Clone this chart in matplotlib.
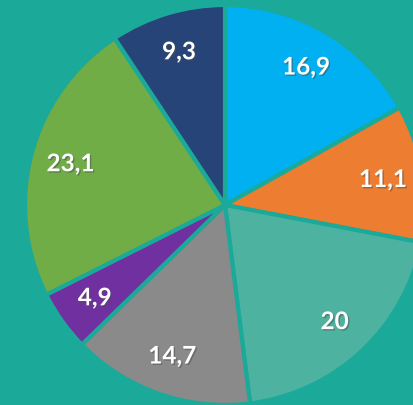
import matplotlib.pyplot as plt
import matplotlib.patheffects as pe

values = [16.9, 11.1, 20, 14.7, 4.9, 23.1, 9.3]
labels = ["16,9", "11,1", "20", "14,7", "4,9", "23,1", "9,3"]
colors = ["#00B0F0", "#ED7D31", "#4DB3A0", "#8A8A8A", "#7030A0", "#70AD47", "#264478"]
bg = "#1BA999"

fig = plt.figure(figsize=(4.13, 4.05), dpi=100)
fig.patch.set_facecolor(bg)
ax = fig.add_axes([0, 0, 1, 1])
ax.set_facecolor(bg)

wedges, texts = ax.pie(values, labels=labels, colors=colors, startangle=90,
                       counterclock=False, labeldistance=0.8, radius=1.0,
                       wedgeprops=dict(edgecolor=bg, linewidth=3))
for t in texts:
    t.set_ha("center")
    t.set_va("center")
    t.set_color("white")
    t.set_fontsize(17.5)
    t.set_fontweight("bold")
    t.set_family("Lato")
    t.set_path_effects([pe.withSimplePatchShadow(offset=(1, -1), alpha=0.5)])

ax.set_aspect("auto")
ax.set_xlim(-1.125, 0.94)
ax.set_ylim(-1.0, 1.025)
ax.axis("off")

fig.savefig("out.png", dpi=100, facecolor=bg)
